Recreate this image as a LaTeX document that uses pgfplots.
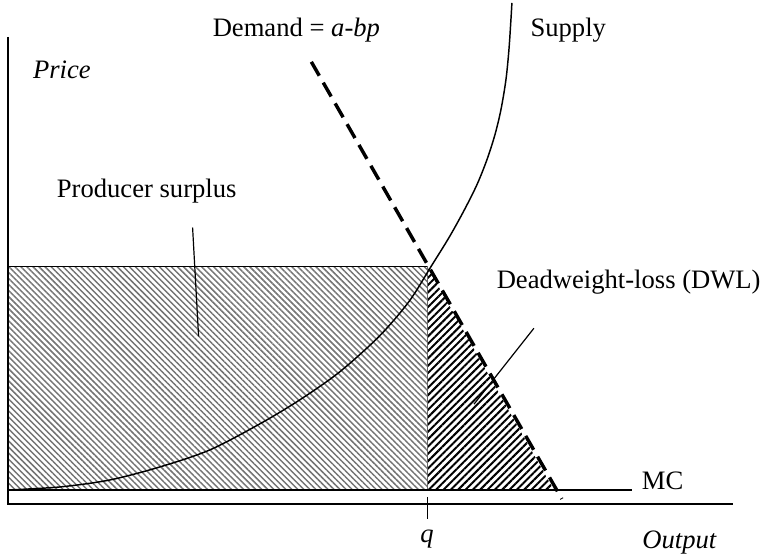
\documentclass[border=0pt]{standalone}
\usepackage{pgfplots}
\pgfplotsset{compat=1.18}
\usepackage{fontspec}
\setmainfont{Liberation Serif}
\usetikzlibrary{patterns.meta}

% coordinates are pixels of the 765x558 sketch, y counted from the bottom

\begin{document}
\begin{tikzpicture}
\begin{axis}[
    scale only axis,
    width=573.75pt, height=418.5pt,
    xmin=0, xmax=765, ymin=0, ymax=558,
    axis lines=none,
    clip=false,
    font=\fontsize{20}{24}\selectfont,
]
% frame for the bounding box
\addplot[draw=none] coordinates {(0,0) (765,558)};

% producer surplus (grey hatch)
\addplot[draw=none, pattern={Lines[angle=-45,distance=3.2pt,line width=1.1pt]}, pattern color=black!55]
  coordinates {(8,67) (428,67) (428,291) (8,291)} -- cycle;
% deadweight loss (black hatch)
\addplot[draw=none, pattern={Lines[angle=45,distance=3.9pt,line width=1.5pt]}, pattern color=black]
  coordinates {(428,67) (555,67) (428,291)} -- cycle;
\addplot[black, line width=0.8pt] coordinates {(8,291) (428,291)};
\addplot[black!60, line width=0.7pt] coordinates {(428,291) (428,67)};

% axes and MC
\addplot[black, line width=1.6pt] coordinates {(8,521) (8,53) (735,53)};
\addplot[black, line width=1.6pt] coordinates {(8,67) (633,67)};
\addplot[black, line width=0.8pt] coordinates {(428,60) (428,38)};

% supply
\addplot[black, line width=1.1pt, smooth] coordinates {
  (8,67) (60,70) (110,77) (160,90) (210,107) (260,133) (300,157)
  (340,185) (380,221) (410,256) (432,291) (450,320) (465,347)
  (478,373) (488,398) (496,423) (502,448) (507,478) (510,508)
  (512,538) (513,555)
};

% demand
\addplot[black, line width=2.6pt, dash pattern=on 12pt off 6pt] coordinates {(312,496) (563,58)};

% leader lines
\addplot[black, line width=0.9pt] coordinates {(193,330) (199,221)};
\addplot[black, line width=0.9pt] coordinates {(535,229) (475,153)};

% labels
\node at (axis cs:297,528) {Demand = \textit{a-bp}};
\node[anchor=west] at (axis cs:527,528) {Supply};
\node at (axis cs:62,488) {\textit{Price}};
\node at (axis cs:147,366) {Producer surplus};
\node at (axis cs:630,275) {Deadweight-loss (DWL)};
\node at (axis cs:664,76) {MC};
\node at (axis cs:428,18) {\textit{q}};
\node at (axis cs:681,14) {\textit{Output}};
\end{axis}
\end{tikzpicture}
\end{document}
